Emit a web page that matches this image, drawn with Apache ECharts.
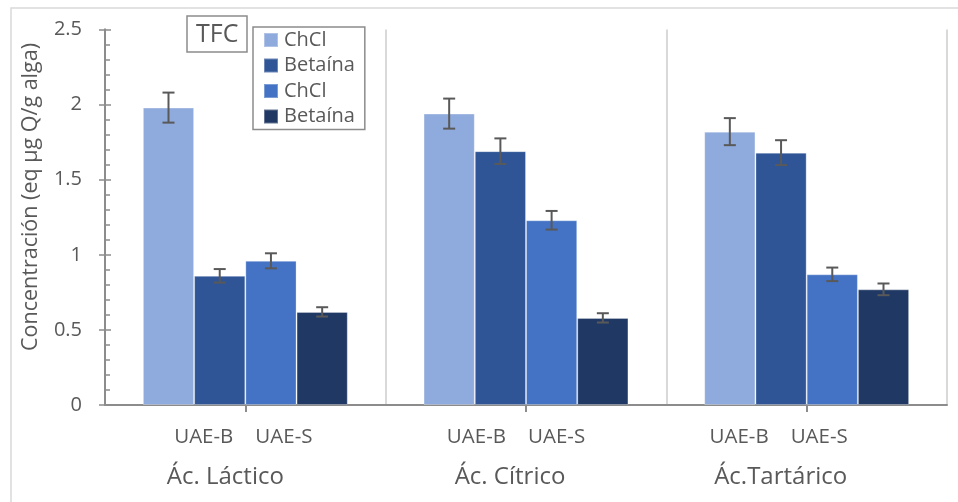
<!DOCTYPE html>
<html>
<head>
<meta charset="utf-8">
<script src="https://cdn.jsdelivr.net/npm/echarts@6/dist/echarts.min.js"></script>
<style>
  html, body { margin: 0; padding: 0; background: #fff; }
  #chart { width: 958px; height: 502px; }
</style>
</head>
<body>
<div id="chart"></div>
<script>
// Acid groups on the x axis and the two extraction methods under each group
const categories = ['Ác. Láctico', 'Ác. Cítrico', 'Ác.Tartárico'];
const methodLabels = ['UAE-B', 'UAE-S'];

// Legend entries (UAE-B: ChCl, Betaína; UAE-S: ChCl, Betaína)
const seriesNames = ['ChCl', 'Betaína', 'ChCl', 'Betaína'];

// TFC values (eq µg Q/g alga) per acid
const chclB = [1.98, 1.94, 1.82];
const betainaB = [0.86, 1.69, 1.68];
const chclS = [0.96, 1.23, 0.87];
const betainaS = [0.62, 0.58, 0.77];

// Standard deviations for the error bars
const errChclB = [0.10, 0.10, 0.09];
const errBetainaB = [0.045, 0.085, 0.083];
const errChclS = [0.05, 0.062, 0.045];
const errBetainaS = [0.031, 0.031, 0.039];

// Y axis ticks
const yTicks = [0, 0.5, 1, 1.5, 2, 2.5];

const values = [chclB, betainaB, chclS, betainaS];
const errors = [errChclB, errBetainaB, errChclS, errBetainaS];
const colors = ['#8FAADC', '#2F5597', '#4472C4', '#203864'];

const FONT = "'Open Sans', sans-serif";
const TEXT = '#595959';
const AXIS = '#8c8c8c';
const CAT_GAP = 0.27;
const N = values.length;

// Horizontal nudges (px, negative = left) of the two label rows under each group
const groupShift = [-20, -16, -26];
const methodShift = [-2, -10, -28];

const chart = echarts.init(document.getElementById('chart'), null, { renderer: 'canvas' });

const barSeries = values.map((v, i) => ({
  type: 'bar',
  name: seriesNames[i] + ' '.repeat(Math.floor(i / 2)),
  xAxisIndex: 0,
  data: v,
  barGap: '0%',
  barCategoryGap: (CAT_GAP * 100) + '%',
  itemStyle: { color: colors[i], borderColor: 'rgba(255,255,255,0.3)', borderWidth: 1 },
  z: 2
}));

const errorSeries = values.map((v, i) => ({
  type: 'custom',
  xAxisIndex: 0,
  z: 4,
  silent: true,
  data: v.map((val, k) => [k, val, errors[i][k]]),
  encode: { x: 0, y: 1 },
  renderItem: (params, api) => {
    const k = api.value(0);
    const val = api.value(1);
    const e = api.value(2);
    const band = api.size([1, 0])[0];
    const bw = band * (1 - CAT_GAP) / N;
    const cx = api.coord([k, val])[0] + (i - (N - 1) / 2) * bw;
    const yTop = api.coord([k, val + e])[1];
    const yBot = api.coord([k, val - e])[1];
    const cap = 6;
    const st = { stroke: '#595959', lineWidth: 2 };
    return {
      type: 'group',
      children: [
        { type: 'line', shape: { x1: cx, y1: yTop, x2: cx, y2: yBot }, style: st },
        { type: 'line', shape: { x1: cx - cap, y1: yTop, x2: cx + cap, y2: yTop }, style: st },
        { type: 'line', shape: { x1: cx - cap, y1: yBot, x2: cx + cap, y2: yBot }, style: st }
      ]
    };
  }
}));

const groupRich = {};
const methodRich = {};
categories.forEach((c, k) => {
  groupRich['g' + k] = {
    fontFamily: FONT, fontSize: 24, color: TEXT, lineHeight: 28,
    padding: [0, Math.max(0, -2 * groupShift[k]), 0, Math.max(0, 2 * groupShift[k])]
  };
  methodRich['s' + k] = {
    fontFamily: FONT, fontSize: 20.5, color: TEXT, lineHeight: 24,
    padding: [0, Math.max(0, -2 * methodShift[k]), 0, 22]
  };
});
methodRich.b = { fontFamily: FONT, fontSize: 20.5, color: TEXT, lineHeight: 24 };

const yAxisBase = {
  type: 'value',
  min: yTicks[0],
  max: yTicks[yTicks.length - 1],
  interval: yTicks[1] - yTicks[0],
  splitLine: { show: false },
  axisLine: { show: true, lineStyle: { color: AXIS, width: 2 } }
};

chart.setOption({
  animation: false,
  backgroundColor: '#fff',
  textStyle: { fontFamily: FONT },
  title: {
    text: 'TFC',
    left: 187,
    top: 16,
    padding: [5, 9, 4, 9],
    borderColor: '#8c8c8c',
    borderWidth: 1.5,
    textStyle: { fontFamily: FONT, fontSize: 25, fontWeight: 'normal', color: TEXT, lineHeight: 27 }
  },
  legend: {
    orient: 'vertical',
    left: 253,
    top: 27,
    padding: [3, 10, 3, 10],
    borderColor: '#8c8c8c',
    borderWidth: 1.5,
    itemWidth: 14,
    itemHeight: 14,
    itemGap: 5.5,
    icon: 'rect',
    data: barSeries.map(s => s.name),
    formatter: name => name.trim(),
    textStyle: { fontFamily: FONT, fontSize: 20, color: TEXT, lineHeight: 20, padding: [0, 0, 0, 1] }
  },
  grid: { left: 105, right: 11, top: 29.5, bottom: 97, containLabel: false },
  xAxis: [
    {
      type: 'category',
      data: categories,
      axisLine: { show: true, lineStyle: { color: AXIS, width: 2 } },
      axisTick: { show: true, alignWithLabel: true, length: 7, lineStyle: { color: AXIS, width: 2 } },
      splitLine: { show: true, lineStyle: { color: '#d9d9d9', width: 2 } },
      axisLabel: {
        margin: 58,
        interval: 0,
        formatter: (v, k) => '{g' + k + '|' + v + '}',
        rich: groupRich
      }
    },
    {
      type: 'category',
      position: 'bottom',
      data: categories,
      axisLine: { show: false },
      axisTick: { show: false },
      splitLine: { show: false },
      axisLabel: {
        margin: 20,
        interval: 0,
        formatter: (v, k) => '{b|' + methodLabels[0] + '}{s' + k + '|' + methodLabels[1] + '}',
        rich: methodRich
      }
    }
  ],
  yAxis: [
    Object.assign({}, yAxisBase, {
      axisTick: { show: true, inside: true, length: 6, lineStyle: { color: AXIS, width: 1.5 } },
      minorTick: { show: true, splitNumber: 5, length: 5, lineStyle: { color: AXIS, width: 1.5 } },
      axisLabel: {
        margin: 23,
        fontFamily: FONT,
        fontSize: 20,
        color: TEXT,
        formatter: v => String(v)
      }
    }),
    Object.assign({}, yAxisBase, {
      position: 'left',
      offset: 0,
      axisTick: { show: true, inside: false, length: 6, lineStyle: { color: AXIS, width: 1.5 } },
      axisLabel: { show: false }
    })
  ],
  graphic: [
    {
      type: 'rect',
      silent: true,
      shape: { x: 11, y: 8, width: 980, height: 520 },
      style: { fill: 'none', stroke: '#d9d9d9', lineWidth: 1.5 },
      z: -1
    },
    {
      type: 'text',
      x: 31,
      y: 197,
      rotation: Math.PI / 2,
      style: {
        text: 'Concentración (eq µg Q/g alga)',
        fontFamily: FONT,
        fontSize: 21.5,
        fill: TEXT,
        align: 'center',
        verticalAlign: 'middle'
      }
    }
  ],
  series: barSeries.concat(errorSeries)
});
</script>
</body>
</html>
